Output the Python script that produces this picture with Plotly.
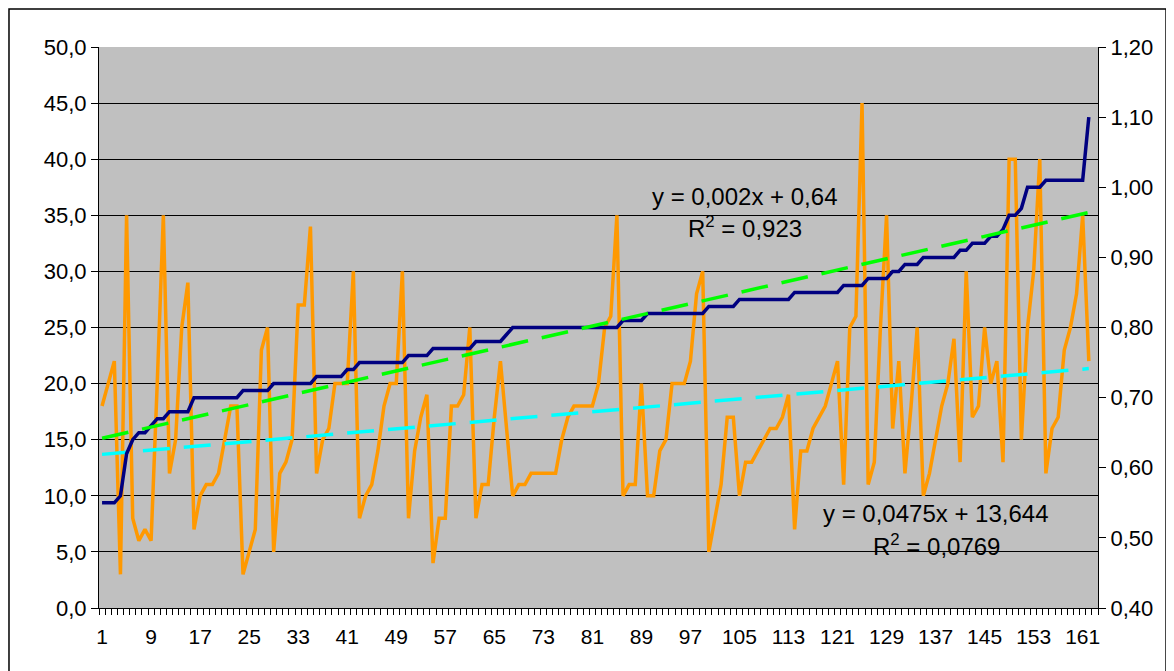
import plotly.graph_objects as go

# ---- data ----
orange = [18, 20, 22, 3, 35, 8, 6, 7, 6, 20,
          35, 12, 15, 25, 29, 7, 10, 11, 11, 12,
          15, 18, 18, 3, 5, 7, 23, 25, 5, 12,
          13, 15, 27, 27, 34, 12, 15, 16, 20, 20,
          20, 30, 8, 10, 11, 14, 18, 20, 20, 30,
          8, 14, 17, 19, 4, 8, 8, 18, 18, 19,
          25, 8, 11, 11, 17, 22, 16, 10, 11, 11,
          12, 12, 12, 12, 12, 15, 17, 18, 18, 18,
          18, 20, 25, 26, 35, 10, 11, 11, 20, 10,
          10, 14, 15, 20, 20, 20, 22, 28, 30, 5,
          8, 11, 17, 17, 10, 13, 13, 14, 15, 16,
          16, 17, 19, 7, 14, 14, 16, 17, 18, 20,
          22, 11, 25, 26, 45, 11, 13, 25, 35, 16,
          22, 12, 18, 25, 10, 12, 15, 18, 20, 24,
          13, 30, 17, 18, 25, 20, 22, 13, 40, 40,
          15, 25, 30, 40, 12, 16, 17, 23, 25, 28,
          35, 22]

navy = [0.55, 0.55, 0.55, 0.56, 0.62, 0.64, 0.65, 0.65, 0.66, 0.67,
        0.67, 0.68, 0.68, 0.68, 0.68, 0.70, 0.70, 0.70, 0.70, 0.70,
        0.70, 0.70, 0.70, 0.71, 0.71, 0.71, 0.71, 0.71, 0.72, 0.72,
        0.72, 0.72, 0.72, 0.72, 0.72, 0.73, 0.73, 0.73, 0.73, 0.73,
        0.74, 0.74, 0.75, 0.75, 0.75, 0.75, 0.75, 0.75, 0.75, 0.75,
        0.76, 0.76, 0.76, 0.76, 0.77, 0.77, 0.77, 0.77, 0.77, 0.77,
        0.77, 0.78, 0.78, 0.78, 0.78, 0.78, 0.79, 0.80, 0.80, 0.80,
        0.80, 0.80, 0.80, 0.80, 0.80, 0.80, 0.80, 0.80, 0.80, 0.80,
        0.80, 0.80, 0.80, 0.80, 0.80, 0.81, 0.81, 0.81, 0.81, 0.82,
        0.82, 0.82, 0.82, 0.82, 0.82, 0.82, 0.82, 0.82, 0.82, 0.83,
        0.83, 0.83, 0.83, 0.83, 0.84, 0.84, 0.84, 0.84, 0.84, 0.84,
        0.84, 0.84, 0.84, 0.85, 0.85, 0.85, 0.85, 0.85, 0.85, 0.85,
        0.85, 0.86, 0.86, 0.86, 0.86, 0.87, 0.87, 0.87, 0.87, 0.88,
        0.88, 0.89, 0.89, 0.89, 0.90, 0.90, 0.90, 0.90, 0.90, 0.90,
        0.91, 0.91, 0.92, 0.92, 0.92, 0.93, 0.93, 0.94, 0.96, 0.96,
        0.97, 1.00, 1.00, 1.00, 1.01, 1.01, 1.01, 1.01, 1.01, 1.01,
        1.01, 1.10]

categories = list(range(1, len(orange) + 1))

# trendline coefficients as shown on the chart
navy_trend = {"slope": 0.002, "intercept": 0.64}
orange_trend = {"slope": 0.0475, "intercept": 13.644}

x_tick_labels = [str(v) for v in range(1, 162, 8)]
left_ticks = [0, 5, 10, 15, 20, 25, 30, 35, 40, 45, 50]
right_ticks = [0.4, 0.5, 0.6, 0.7, 0.8, 0.9, 1.0, 1.1, 1.2]

FONT = "Liberation Sans, Arial, sans-serif"
FS_X = 21
FS_Y = 22
FS_ANN = 24

trend_x = [categories[0], categories[-1]]
navy_trend_y = [navy_trend["slope"] * v + navy_trend["intercept"] for v in trend_x]
orange_trend_y = [orange_trend["slope"] * v + orange_trend["intercept"] for v in trend_x]

fig = go.Figure()
fig.add_trace(go.Scatter(x=categories, y=orange, mode="lines",
                         line=dict(color="#FF9900", width=3.5), yaxis="y"))
fig.add_trace(go.Scatter(x=trend_x, y=orange_trend_y, mode="lines",
                         line=dict(color="#00FFFF", width=3.5, dash="27px,14px"), yaxis="y"))
fig.add_trace(go.Scatter(x=categories, y=navy, mode="lines",
                         line=dict(color="#000080", width=3.5), yaxis="y2"))
fig.add_trace(go.Scatter(x=trend_x, y=navy_trend_y, mode="lines",
                         line=dict(color="#00FF00", width=3.5, dash="27px,14px"), yaxis="y2"))

boundaries = [c - 0.5 for c in categories] + [categories[-1] + 0.5, categories[-1] + 1.5]

# page body has an 8px margin: figure occupies 1166x663 starting at (8,8)
fig.update_layout(
    width=1166, height=663, autosize=False,
    margin=dict(l=91, r=76, t=39, b=63),
    paper_bgcolor="white", plot_bgcolor="#C0C0C0",
    separators=",.",
    showlegend=False,
    font=dict(family=FONT, size=FS_X, color="black"),
    xaxis=dict(range=[0.5, categories[-1] + 1.5],
               tickmode="array",
               tickvals=[int(t) for t in x_tick_labels],
               ticktext=x_tick_labels,
               ticks="outside", ticklen=10, tickcolor="rgba(0,0,0,0)",
               showgrid=False, zeroline=False,
               showline=True, linecolor="black", linewidth=1,
               tickfont=dict(family=FONT, size=FS_X, color="black"),
               minor=dict(tickvals=boundaries, ticks="outside", ticklen=6,
                          tickcolor="black", tickwidth=1, showgrid=False)),
    yaxis=dict(range=[0, 50], tickmode="array", tickvals=left_ticks,
               tickformat=".1f", ticks="outside", ticklen=7, tickcolor="black",
               showgrid=True, gridcolor="black", gridwidth=1,
               zeroline=False, showline=True, linecolor="black", linewidth=1,
               tickfont=dict(family=FONT, size=FS_Y, color="black")),
    yaxis2=dict(range=[0.4, 1.2], overlaying="y", side="right",
                tickmode="array", tickvals=right_ticks, tickformat=".2f",
                ticks="outside", ticklen=7, tickcolor="black",
                showgrid=False, zeroline=False,
                showline=True, linecolor="black", linewidth=1,
                tickfont=dict(family=FONT, size=FS_Y, color="black")),
    shapes=[dict(type="rect", xref="paper", yref="paper",
                 x0=-0.0901, x1=1.0681, y0=-0.2, y1=1.0677,
                 line=dict(color="black", width=1.5), fillcolor="rgba(0,0,0,0)",
                 layer="below")],
    annotations=[
        dict(x=105.9, y=36.7, xref="x", yref="y", showarrow=False,
             text="y = 0,002x + 0,64", font=dict(family=FONT, size=FS_ANN, color="black")),
        dict(x=105.9, y=34.0, xref="x", yref="y", showarrow=False,
             text="R<sup>2</sup> = 0,923", font=dict(family=FONT, size=FS_ANN, color="black")),
        dict(x=137.1, y=8.4, xref="x", yref="y", showarrow=False,
             text="y = 0,0475x + 13,644", font=dict(family=FONT, size=FS_ANN, color="black")),
        dict(x=137.1, y=5.65, xref="x", yref="y", showarrow=False,
             text="R<sup>2</sup> = 0,0769", font=dict(family=FONT, size=FS_ANN, color="black")),
    ],
)

fig.write_html("out.html")
